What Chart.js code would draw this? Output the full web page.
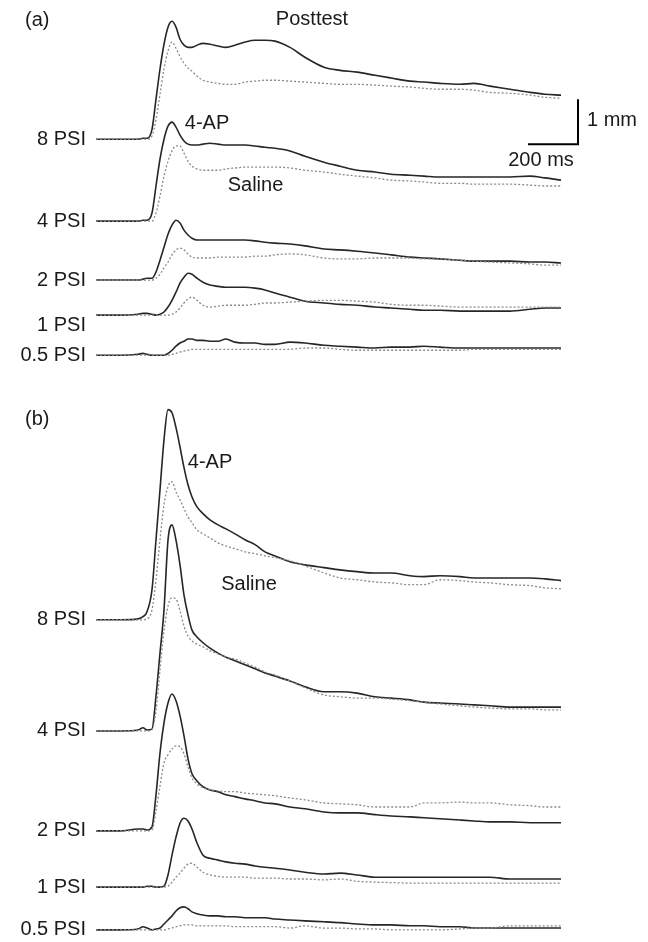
<!DOCTYPE html>
<html>
<head>
<meta charset="utf-8">
<script src="https://cdn.jsdelivr.net/npm/chart.js@4/dist/chart.umd.min.js"></script>
<style>
html,body{margin:0;padding:0;background:#fff;}
canvas{display:block;}
</style>
</head>
<body>
<canvas id="c" width="648" height="942"></canvas>
<script>
// Time axis (ms) shared by all traces
const timesMs = [0,96,168,188,204,224,240,256,272,288,304,320,336,352,368,384,404,428,456,488,520,556,596,636,676,716,776,836,912,976,1044,1116,1180,1256,1312,1376,1456,1512,1576,1656,1736,1796,1860];

// Pressure labels
const pressures = ["8 PSI","4 PSI","2 PSI","1 PSI","0.5 PSI"];

// Vertical stacking baselines (mm) of each trace row
const baselinesA = [17.84,16.02,14.71,13.93,13.04];
const baselinesB = [7.16,4.69,2.47,1.22,0.27];
// label vertical positions (mm), normally equal to baselines
const labelYA = [17.84,16.02,14.71,13.71,13.04];
const labelYB = [7.16,4.69,2.47,1.22,0.27];

// Panel (a): deflection (mm) — 4-AP (solid) and Saline (dotted)
const a8_4AP   = [0,0,0,0.02,0.02,0.22,0.89,1.56,2.11,2.49,2.62,2.49,2.22,2.09,2.04,2.04,2.09,2.13,2.11,2.07,2.04,2.09,2.16,2.2,2.2,2.18,2.04,1.82,1.6,1.53,1.49,1.42,1.36,1.29,1.27,1.24,1.22,1.24,1.18,1.11,1.04,1,0.98];
const a8_sal   = [0,0,0,0,0,0.07,0.44,1,1.56,1.96,2.16,2.02,1.84,1.69,1.58,1.51,1.4,1.31,1.27,1.24,1.22,1.22,1.27,1.29,1.31,1.31,1.29,1.27,1.24,1.22,1.22,1.2,1.18,1.16,1.13,1.11,1.11,1.09,1.04,1.02,0.98,0.93,0.91];
const a4_4AP   = [0,0,0,0.02,0.02,0.18,0.78,1.38,1.82,2.11,2.2,2.09,1.91,1.78,1.71,1.69,1.69,1.71,1.73,1.71,1.69,1.69,1.69,1.67,1.64,1.62,1.56,1.44,1.31,1.22,1.13,1.09,1.04,1.02,1,0.98,0.98,0.98,0.98,0.98,1,0.96,0.91];
const a4_sal   = [0,0,0,0,0,0,0.18,0.56,1,1.33,1.56,1.67,1.67,1.51,1.33,1.22,1.16,1.13,1.13,1.13,1.16,1.18,1.2,1.2,1.2,1.2,1.18,1.13,1.09,1.04,1,0.96,0.91,0.89,0.87,0.84,0.84,0.82,0.82,0.82,0.8,0.78,0.78];
const a2_4AP   = [0,0,0,0.02,0.04,0.04,0.18,0.44,0.73,1.02,1.22,1.33,1.27,1.11,1,0.93,0.89,0.89,0.89,0.89,0.89,0.89,0.89,0.87,0.84,0.82,0.8,0.76,0.69,0.67,0.64,0.6,0.56,0.51,0.49,0.47,0.44,0.42,0.42,0.42,0.4,0.4,0.38];
const a2_sal   = [0,0,0,0,0,0,0.04,0.13,0.27,0.4,0.56,0.67,0.71,0.67,0.58,0.51,0.49,0.49,0.49,0.51,0.51,0.51,0.51,0.53,0.53,0.56,0.58,0.56,0.49,0.47,0.47,0.49,0.49,0.49,0.47,0.47,0.44,0.42,0.4,0.38,0.36,0.33,0.33];
const a1_4AP   = [0,0,0.02,0.04,0.04,0.02,0,0.02,0.07,0.18,0.33,0.51,0.71,0.84,0.93,0.91,0.82,0.73,0.67,0.64,0.62,0.62,0.62,0.6,0.56,0.49,0.4,0.31,0.27,0.24,0.22,0.18,0.16,0.13,0.11,0.11,0.09,0.09,0.09,0.09,0.13,0.16,0.16];
const a1_sal   = [0,0,0,0,0,0,0,0,0,0,0.02,0.07,0.16,0.27,0.36,0.4,0.33,0.22,0.18,0.2,0.22,0.22,0.22,0.24,0.27,0.27,0.29,0.31,0.33,0.33,0.31,0.29,0.24,0.22,0.22,0.2,0.18,0.18,0.18,0.18,0.18,0.18,0.18];
const a05_4AP  = [0,0,0.02,0.04,0.02,0,0,0,0,0.04,0.11,0.2,0.27,0.31,0.36,0.36,0.33,0.33,0.31,0.31,0.36,0.29,0.27,0.27,0.24,0.24,0.29,0.27,0.22,0.2,0.18,0.16,0.18,0.18,0.2,0.18,0.16,0.16,0.16,0.16,0.16,0.16,0.16];
const a05_sal  = [0,0,0,0,0,0,0,0,0,0,0.02,0.04,0.07,0.09,0.11,0.13,0.13,0.13,0.13,0.13,0.13,0.13,0.13,0.13,0.13,0.13,0.13,0.16,0.16,0.13,0.11,0.11,0.11,0.11,0.11,0.11,0.11,0.13,0.13,0.13,0.13,0.13,0.13];

// Panel (b)
const b8_4AP   = [0,0,0.02,0.07,0.18,0.67,1.78,2.89,4,4.67,4.6,4.27,3.84,3.38,3,2.73,2.51,2.36,2.22,2.11,2.02,1.91,1.78,1.67,1.51,1.42,1.29,1.22,1.16,1.11,1.07,1.04,1.04,0.98,0.96,0.98,0.96,0.93,0.93,0.93,0.93,0.91,0.87];
const b8_sal   = [0,0,0,0,0.02,0.22,0.89,1.78,2.56,2.96,3.07,2.84,2.67,2.47,2.29,2.16,2,1.91,1.82,1.71,1.64,1.58,1.51,1.47,1.42,1.38,1.31,1.2,1.04,0.93,0.89,0.84,0.82,0.78,0.78,0.89,0.87,0.84,0.82,0.78,0.76,0.71,0.69];
const b4_4AP   = [0,0,0.02,0.07,0.02,0.04,0.78,1.73,2.69,4.24,4.58,4.24,3.69,3.02,2.58,2.24,2.09,1.96,1.84,1.73,1.64,1.56,1.47,1.38,1.29,1.22,1.11,0.98,0.87,0.87,0.84,0.76,0.73,0.69,0.64,0.62,0.6,0.58,0.56,0.53,0.53,0.53,0.53];
const b4_sal   = [0,0,0,0,0,0.04,0.44,1.36,2.22,2.78,2.96,2.93,2.67,2.33,2.11,2,1.93,1.87,1.78,1.71,1.64,1.6,1.51,1.42,1.31,1.24,1.11,0.96,0.8,0.76,0.73,0.73,0.71,0.67,0.64,0.6,0.56,0.53,0.51,0.49,0.49,0.47,0.47];
const b2_4AP   = [0,0,0.04,0.04,0.02,0.09,0.8,1.73,2.4,2.84,3.04,2.89,2.56,2.11,1.6,1.27,1.11,0.98,0.91,0.87,0.8,0.76,0.71,0.67,0.62,0.6,0.53,0.49,0.42,0.4,0.4,0.36,0.33,0.31,0.29,0.27,0.24,0.22,0.2,0.2,0.18,0.18,0.18];
const b2_sal   = [0,0,0,0,0,0.02,0.44,1,1.51,1.69,1.82,1.89,1.87,1.71,1.42,1.18,1.04,0.96,0.91,0.89,0.87,0.87,0.84,0.82,0.8,0.78,0.73,0.69,0.62,0.6,0.58,0.53,0.53,0.53,0.62,0.62,0.64,0.62,0.62,0.58,0.56,0.53,0.53];
const b1_4AP   = [0,0,0,0,0.02,0.02,0,0,0.02,0.27,0.71,1.11,1.42,1.53,1.47,1.29,0.98,0.71,0.64,0.6,0.56,0.53,0.51,0.47,0.44,0.42,0.38,0.33,0.29,0.31,0.27,0.22,0.22,0.22,0.22,0.22,0.22,0.22,0.22,0.18,0.18,0.18,0.18];
const b1_sal   = [0,0,0,0,0,0,0,0,0,0.02,0.11,0.22,0.31,0.42,0.51,0.53,0.44,0.33,0.27,0.24,0.22,0.22,0.22,0.2,0.2,0.2,0.18,0.18,0.16,0.18,0.13,0.11,0.1,0.09,0.09,0.09,0.09,0.09,0.09,0.09,0.09,0.09,0.09];
const b05_4AP  = [0,0,0.02,0.07,0.04,0,0.02,0.04,0.13,0.22,0.31,0.42,0.49,0.51,0.47,0.4,0.36,0.33,0.31,0.31,0.29,0.29,0.27,0.27,0.27,0.24,0.22,0.2,0.18,0.16,0.13,0.11,0.11,0.09,0.09,0.07,0.07,0.04,0.04,0.04,0.04,0.04,0.04];
const b05_sal  = [0,0,0,0,0,0,0,0,0,0.02,0.04,0.07,0.09,0.11,0.11,0.11,0.09,0.09,0.09,0.09,0.09,0.07,0.07,0.07,0.07,0.07,0.04,0.09,0.04,0.04,0.02,0.02,0,0,0,0,0.02,0.04,0.04,0.09,0.09,0.09,0.09];

const panelA4AP = [a8_4AP,a4_4AP,a2_4AP,a1_4AP,a05_4AP];
const panelASal = [a8_sal,a4_sal,a2_sal,a1_sal,a05_sal];
const panelB4AP = [b8_4AP,b4_4AP,b2_4AP,b1_4AP,b05_4AP];
const panelBSal = [b8_sal,b4_sal,b2_sal,b1_sal,b05_sal];

// Scale bar: 1 mm by 200 ms
const scaleBarMm = 1;
const scaleBarMs = 200;
const scaleBarAt = {t: 1928, y: 17.73};

// Annotations [text, t(ms), y(mm), align]
const annotations = [
  ["(a)", -284, 20.48, "left"],
  ["Posttest", 864, 20.5, "center"],
  ["4-AP", 444, 18.18, "center"],
  ["Saline", 638, 16.81, "center"],
  ["1 mm", 1964, 18.26, "left"],
  ["200 ms", 1780, 17.37, "center"],
  ["(b)", -284, 11.61, "left"],
  ["4-AP", 456, 10.66, "center"],
  ["Saline", 612, 7.94, "center"]
];
const labelT = -40;

const SOLID = "#262626", DOT = "#8a8a8a";
const datasets = [];
function addPanel(solids, dots, bases) {
  for (let k = 0; k < solids.length; k++) {
    datasets.push({
      data: timesMs.map((t, i) => ({x: t, y: bases[k] + dots[k][i]})),
      borderColor: DOT, borderWidth: 1.3, borderDash: [2, 2],
      pointRadius: 0, fill: false, cubicInterpolationMode: "monotone"
    });
    datasets.push({
      data: timesMs.map((t, i) => ({x: t, y: bases[k] + solids[k][i]})),
      borderColor: SOLID, borderWidth: 1.6,
      pointRadius: 0, fill: false, cubicInterpolationMode: "monotone"
    });
  }
}
addPanel(panelA4AP, panelASal, baselinesA);
addPanel(panelB4AP, panelBSal, baselinesB);
datasets.push({
  data: [
    {x: scaleBarAt.t, y: scaleBarAt.y + scaleBarMm},
    {x: scaleBarAt.t, y: scaleBarAt.y},
    {x: scaleBarAt.t - scaleBarMs, y: scaleBarAt.y}
  ],
  borderColor: "#000", borderWidth: 2, pointRadius: 0, tension: 0, fill: false
});

const textPlugin = {
  id: "texts",
  afterDatasetsDraw(chart) {
    const ctx = chart.ctx, xs = chart.scales.x, ys = chart.scales.y;
    ctx.save();
    ctx.fillStyle = "#1a1a1a";
    ctx.font = '20px "Liberation Sans", Arial, sans-serif';
    ctx.textBaseline = "middle";
    ctx.textAlign = "right";
    pressures.forEach((p, k) => {
      ctx.fillText(p, xs.getPixelForValue(labelT), ys.getPixelForValue(labelYA[k]));
      ctx.fillText(p, xs.getPixelForValue(labelT), ys.getPixelForValue(labelYB[k]));
    });
    annotations.forEach(a => {
      ctx.textAlign = a[3];
      ctx.fillText(a[0], xs.getPixelForValue(a[1]), ys.getPixelForValue(a[2]));
    });
    ctx.restore();
  }
};

new Chart(document.getElementById("c"), {
  type: "line",
  data: {datasets},
  options: {
    responsive: false,
    animation: false,
    events: [],
    layout: {padding: 0},
    plugins: {legend: {display: false}, tooltip: {enabled: false}},
    scales: {
      x: {type: "linear", min: -384, max: 2208, display: false},
      y: {type: "linear", min: 0, max: 942 / 45, display: false}
    }
  },
  plugins: [textPlugin]
});
</script>
</body>
</html>
